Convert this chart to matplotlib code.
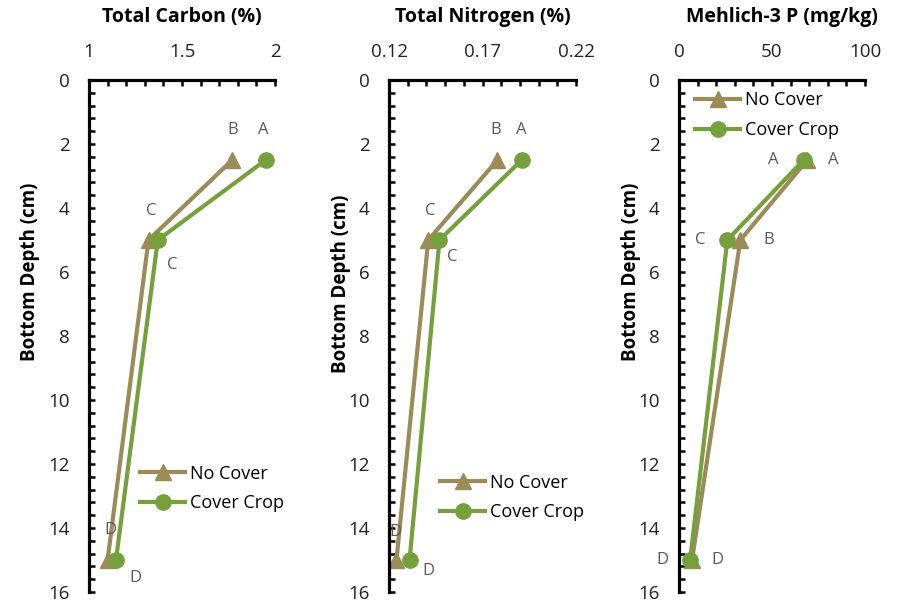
import matplotlib
matplotlib.use('Agg')
import matplotlib.pyplot as plt
from matplotlib.ticker import MultipleLocator

plt.rcParams['font.family'] = ['Open Sans', 'DejaVu Sans']

# data
depth = [2.5, 5, 15]

carbon_nc = [1.77, 1.32, 1.10]
carbon_cc = [1.95, 1.37, 1.145]
nitrogen_nc = [0.178, 0.141, 0.124]
nitrogen_cc = [0.191, 0.147, 0.131]
p_nc = [69, 33, 7]
p_cc = [67, 26, 6]

carbon_nc_lbl = ['B', 'C', 'D']
carbon_cc_lbl = ['A', 'C', 'D']
nitrogen_nc_lbl = ['B', 'C', 'D']
nitrogen_cc_lbl = ['A', 'C', 'D']
p_nc_lbl = ['A', 'B', 'D']
p_cc_lbl = ['A', 'C', 'D']

titles = ['Total Carbon (%)', 'Total Nitrogen (%)', 'Mehlich-3 P (mg/kg)']
xlims = [(1, 2), (0.12, 0.22), (0, 100)]
xmajor = [[1, 1.5, 2], [0.12, 0.17, 0.22], [0, 50, 100]]
xmajor_lbl = [['1', '1.5', '2'], ['0.12', '0.17', '0.22'], ['0', '50', '100']]
xminor = [0.1, 0.01, 10]

NC_COL = '#9A8B57'
CC_COL = '#76A03C'
LBL_COL = '#595959'

fig = plt.figure(figsize=(8.98, 6.05), dpi=100)

# axes placement in pixels (left, width)
boxes = [(89, 186), (389, 187), (679, 186)]
ax_top, ax_bot = 80, 592
H, W = 605, 898

series = [
    (carbon_nc, carbon_cc, carbon_nc_lbl, carbon_cc_lbl),
    (nitrogen_nc, nitrogen_cc, nitrogen_nc_lbl, nitrogen_cc_lbl),
    (p_nc, p_cc, p_nc_lbl, p_cc_lbl),
]

# label offsets in pixels (dx, dy up), per panel
nc_off = [
    [(0, 30), (3, 29), (3, 30)],
    [(-2, 30), (2, 29), (-1, 28)],
    [(26, 0), (28, 0), (25, 0)],
]
cc_off = [
    [(-2, 30), (14, -25), (19, -18)],
    [(-1, 30), (13, -17), (19, -11)],
    [(-30, 0), (-27, 0), (-28, 0)],
]

leg_anchor = [(0.274, 0.249), (0.273, 0.231), (0.086, 0.978)]
ylab_pos = [(-0.317, 0.625), (-0.257, 0.602), (-0.258, 0.625)]
title_x = [0.5, 0.503, 0.554]

px2pt = 72 / 100

for i in range(3):
    left, width = boxes[i]
    ax = fig.add_axes([left / W, 1 - ax_bot / H, width / W, (ax_bot - ax_top) / H])
    nc, cc, nc_lbl, cc_lbl = series[i]

    ax.plot(nc, depth, color=NC_COL, lw=3, marker='^', ms=11, label='No Cover')
    ax.plot(cc, depth, color=CC_COL, lw=3, marker='o', ms=11, label='Cover Crop')

    for j in range(3):
        dx, dy = nc_off[i][j]
        ax.annotate(nc_lbl[j], (nc[j], depth[j]), xytext=(dx * px2pt, dy * px2pt),
                    textcoords='offset points', ha='center', va='center',
                    fontsize=12, color=LBL_COL)
        dx, dy = cc_off[i][j]
        ax.annotate(cc_lbl[j], (cc[j], depth[j]), xytext=(dx * px2pt, dy * px2pt),
                    textcoords='offset points', ha='center', va='center',
                    fontsize=12, color=LBL_COL)

    ax.set_xlim(*xlims[i])
    ax.set_ylim(16, 0)
    ax.xaxis.tick_top()
    ax.set_xticks(xmajor[i])
    ax.set_xticklabels(xmajor_lbl[i])
    ax.xaxis.set_minor_locator(MultipleLocator(xminor[i]))
    ax.set_yticks(range(0, 17, 2))
    ax.yaxis.set_minor_locator(MultipleLocator(0.4))

    for side in ['right', 'bottom']:
        ax.spines[side].set_visible(False)
    for side in ['left', 'top']:
        ax.spines[side].set_linewidth(2.3)
        ax.spines[side].set_color('black')

    ax.tick_params(which='both', direction='in', length=4.5, width=1.8, color='black')
    ax.tick_params(axis='x', which='major', pad=14, labelsize=13.5, labelcolor='#222222')
    ax.tick_params(axis='y', which='major', pad=14, labelsize=13.5, labelcolor='#222222')

    ax.text(title_x[i], 1.123, titles[i], transform=ax.transAxes, ha='center',
            va='center', fontsize=14, fontweight='bold')
    ax.text(ylab_pos[i][0], ylab_pos[i][1], 'Bottom Depth (cm)', transform=ax.transAxes,
            ha='center', va='center', rotation=90, fontsize=13.5, fontweight='bold')

    ax.legend(loc='upper left', bbox_to_anchor=leg_anchor[i], frameon=False,
              fontsize=13, handlelength=2.5, handletextpad=0.25, labelspacing=0.65,
              borderpad=0, borderaxespad=0)

fig.savefig('out.png', dpi=100)
